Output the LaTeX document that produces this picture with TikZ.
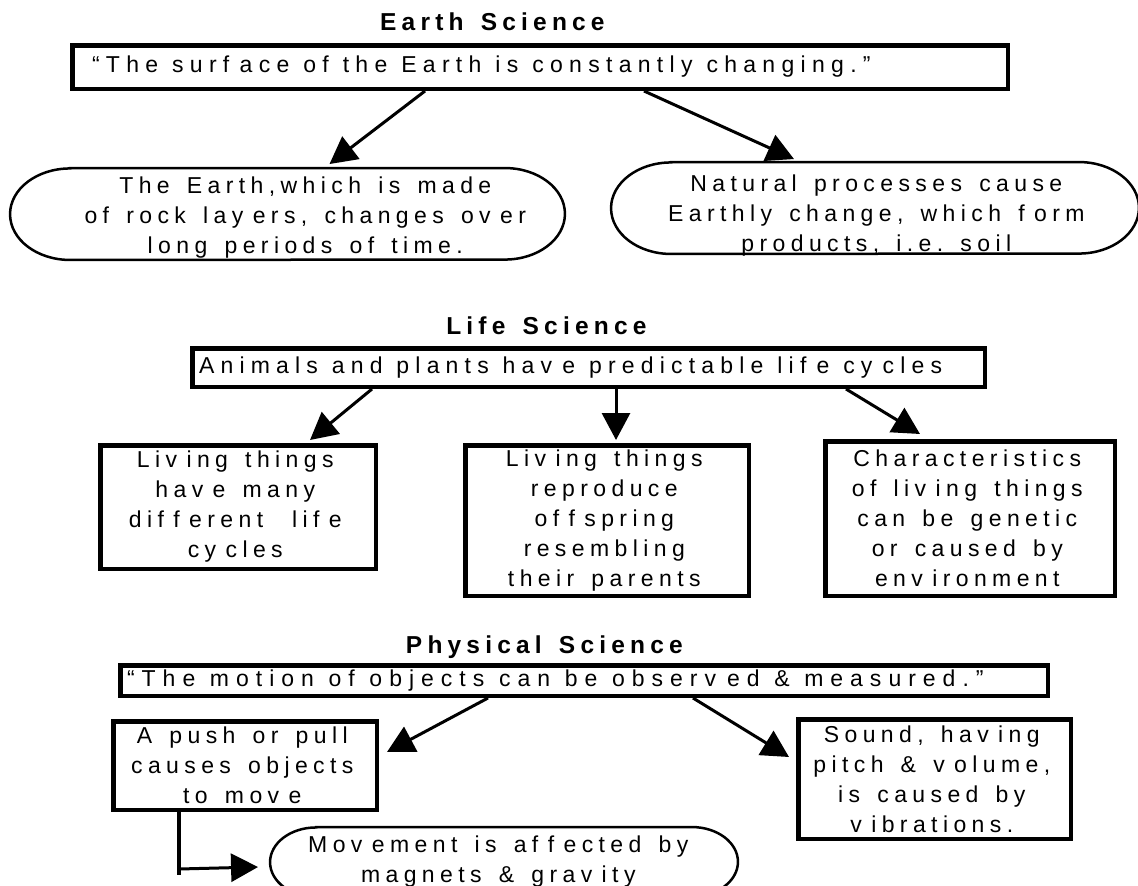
\documentclass[tikz,border=0pt]{standalone}
\usepackage{fontspec}
\setmainfont{Liberation Sans}
\usetikzlibrary{arrows.meta}
% uniform tracking between characters, as in the reference
\newdimen\trkdim \trkdim=5.4pt
\newXeTeXintercharclass\trkclass
\XeTeXinterchartokenstate=1
\count255=33
\loop
  \XeTeXcharclass\count255=\trkclass
  \advance\count255 by 1
\ifnum\count255<127 \repeat
\XeTeXcharclass"201C=\trkclass
\XeTeXcharclass"201D=\trkclass
\XeTeXinterchartoks\trkclass\trkclass={\kern\trkdim}
\XeTeXinterchartoks\trkclass 4095={\kern\trkdim}
\newcommand\kk{\kern4pt}
\newcommand\bodysize{\fontsize{23pt}{30pt}\selectfont\trkdim=5.4pt\spaceskip=11.8pt\relax\xspaceskip=11.8pt\relax}
\newcommand\titlesize{\bfseries\fontsize{24.5pt}{30pt}\selectfont\trkdim=5.2pt\spaceskip=12pt\relax\xspaceskip=12pt\relax}
\tikzset{
  bigbox/.style={draw, line width=4.5pt, inner sep=0pt, align=center, font=\bodysize},
  txt/.style={inner sep=0pt, align=center, font=\bodysize},
  ttl/.style={inner sep=0pt, anchor=base, font=\titlesize},
  geo/.style={inner sep=0pt},
  stad/.style={line width=2.5pt},
  arr/.style={line width=3pt, -{Triangle[length=27pt,width=28pt]}}
}
\begin{document}
\begin{tikzpicture}[x=1pt,y=-1pt]
\fill[white] (0,0) rectangle (1138,886);
\useasboundingbox (0,0) rectangle (1138,886);

% ---------------- Earth Science ----------------
\node[ttl] (tE) at (495,30) {Earth Science};
\node[bigbox, font={\bodysize\trkdim=6.3pt}, minimum width=935.5pt, minimum height=43.5pt, text width=896pt, inner xsep=19.75pt, align=left] (e0) at (540,67)
  {“The surf\kk ace of the Earth is constantly changing.”};
\node[geo, minimum width=554.5pt, minimum height=91.5pt] (e1) at (287.5,214) {};
\node[geo, minimum width=527.5pt, minimum height=91.5pt] (e2) at (875,208) {};
\draw[stad] ([xshift=60pt]e1.north west) -- ([xshift=-60pt]e1.north east)
  arc[start angle=-90, end angle=90, x radius=60, y radius=45.75]
  -- ([xshift=60pt]e1.south west)
  arc[start angle=90, end angle=270, x radius=60, y radius=45.75] -- cycle;
\draw[stad] ([xshift=60pt]e2.north west) -- ([xshift=-60pt]e2.north east)
  arc[start angle=-90, end angle=90, x radius=60, y radius=45.75]
  -- ([xshift=60pt]e2.south west)
  arc[start angle=90, end angle=270, x radius=60, y radius=45.75] -- cycle;
\node[txt] (e1t) at (308,218) {The Earth,which is made\\of rock lay\kk ers, changes ov\kk er\\long periods of time.};
\node[txt] (e2t) at (879,216) {Natural processes cause\\Earthly change, which f\kk orm\\products, i.e. soil};
\draw[arr] ([xshift=-115pt]e0.south) -- ([xshift=42pt,yshift=4pt]e1.north);
\draw[arr] ([xshift=104pt]e0.south) -- ([xshift=-81pt,yshift=3pt]e2.north);

% ---------------- Life Science ----------------
\node[ttl] (tL) at (549,334) {Life Science};
\node[bigbox, font={\bodysize\trkdim=6.2pt}, minimum width=792.5pt, minimum height=38.5pt, text width=779pt, inner xsep=6.75pt, align=left] (l0) at (588.5,367.5)
  {Animals and plants hav\kk e predictable lif\kk e cy\kk cles};
\node[bigbox, minimum width=275.5pt, minimum height=123.5pt] (lb1) at (238,507)
  {Liv\kk ing things\\hav\kk e many\\dif\kk f\kk erent\ \ lif\kk e\\cy\kk cles};
\node[bigbox, minimum width=283.5pt, minimum height=150.5pt] (lb2) at (607,520.5)
  {Liv\kk ing things\\reproduce\\of\kk f\kk spring\\resembling\\their parents};
\node[bigbox, minimum width=289.5pt, minimum height=154.5pt] (lb3) at (970,518.5)
  {Characteristics\\of liv\kk ing things\\can be genetic\\or caused by\\env\kk ironment};
\draw[arr] ([xshift=-216.5pt]l0.south) -- ([xshift=72pt,yshift=3pt]lb1.north);
\draw[arr] ([xshift=27.5pt]l0.south) -- ([xshift=9pt,yshift=3pt]lb2.north);
\draw[arr] ([xshift=257.5pt]l0.south) -- ([xshift=-50pt,yshift=5pt]lb3.north);

% ---------------- Physical Science ----------------
\node[ttl] (tP) at (547,653) {Physical Science};
\node[bigbox, font={\bodysize\trkdim=7pt}, minimum width=927.5pt, minimum height=30.5pt, text width=914pt, inner xsep=6.75pt, align=left] (p0) at (584,680.5)
  {“The motion of objects can be observ\kk ed \& measured.”};
\node[bigbox, minimum width=263.5pt, minimum height=88.5pt] (pb1) at (245,765.5)
  {A push or pull\\causes objects\\to mov\kk e};
\node[bigbox, minimum width=272.5pt, minimum height=119.5pt] (pb2) at (934.5,779)
  {Sound, hav\kk ing\\pitch \& v\kk olume,\\is caused by\\v\kk ibrations.};
\node[geo, minimum width=467.5pt, minimum height=69.5pt] (pe) at (504,862) {};
\draw[stad] ([xshift=46pt]pe.north west) -- ([xshift=-46pt]pe.north east)
  arc[start angle=-90, end angle=90, x radius=46, y radius=34.75]
  -- ([xshift=46pt]pe.south west)
  arc[start angle=90, end angle=270, x radius=46, y radius=34.75] -- cycle;
\node[txt] (pet) at (501,862) {Mov\kk ement is af\kk f\kk ected by\\magnets \& grav\kk ity};
\draw[arr] ([xshift=-96pt]p0.south) -- ([xshift=8pt,yshift=13.5pt]pb1.east);
\draw[arr] ([xshift=109pt]p0.south) -- ([xshift=-7pt,yshift=22pt]pb2.west);
\coordinate (cb) at (179,875);
\draw[line width=4.5pt] ([xshift=-66pt]pb1.south) -- (cb);
\draw[arr] ([yshift=6pt]cb) -- ([xshift=-12pt,yshift=-5pt]pe.west);
\end{tikzpicture}
\end{document}
